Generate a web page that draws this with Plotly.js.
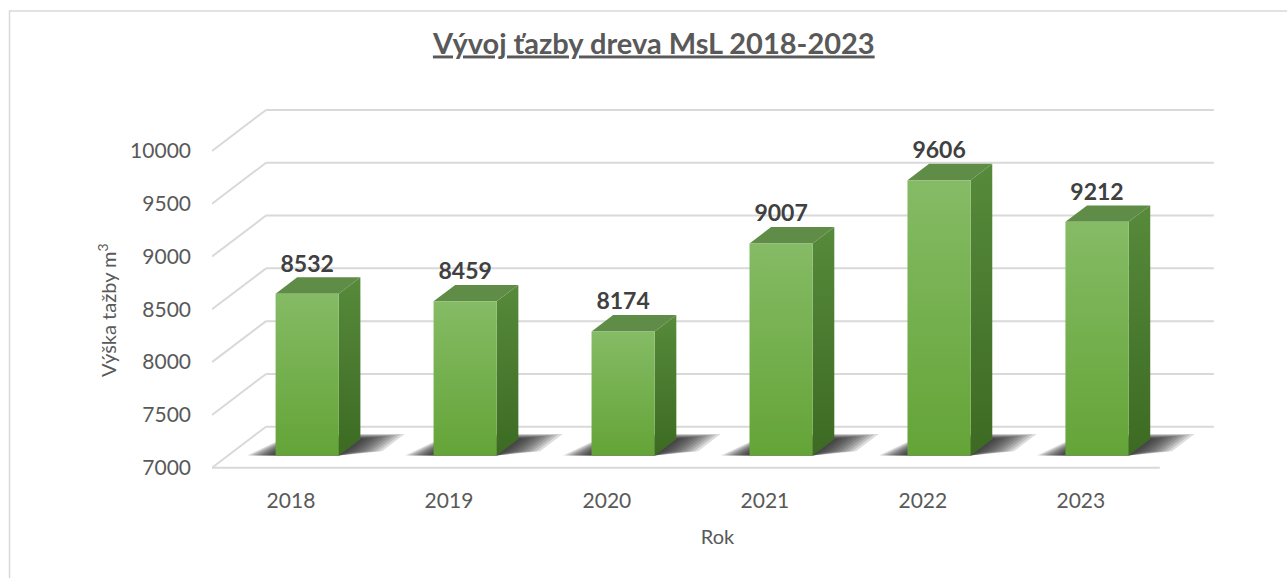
<!DOCTYPE html>
<html><head><meta charset="utf-8">
<script src="https://cdn.plot.ly/plotly-3.0.1.min.js"></script>
<style>html,body{margin:0;padding:0;background:#fff}#chart{width:1287px;height:578px}</style>
</head><body><div id="chart"></div>
<script>
// ---- data ----
const years = ['2018', '2019', '2020', '2021', '2022', '2023'];
const volumes = [8532, 8459, 8174, 9007, 9606, 9212];
const yTicks = [7000, 7500, 8000, 8500, 9000, 9500, 10000];
const yTickText = ['7000', '7500', '8000', '8500', '9000', '9500', '10000'];
const chartTitle = 'Vývoj ťazby dreva MsL 2018-2023';
const xTitle = 'Rok';
const yTitle = 'Výška tažby m<sup>3</sup>';

// ---- 3D oblique projection settings ----
const BASE = 7000;
const DX = 0.342;   // full-depth shift in category units
const DY = 388;     // full-depth shift in value units
const HALF = 0.2;   // half bar width (category units)
const D0 = 0.3, D1 = 0.7; // bar depth span
const n = years.length;
const idx = years.map((_, i) => i);
function P(x, v, d) { return [x + d * DX, v + d * DY]; }

const traces = [];
function poly(pts) { return { x: pts.map(p => p[0]).concat([pts[0][0]]), y: pts.map(p => p[1]).concat([pts[0][1]]) }; }

// grid: back wall lines + left wall diagonals + front floor edge
const gx = [], gy = [];
yTicks.forEach(t => {
  const a = P(-0.5, t, 1), b = P(n - 0.5, t, 1), c = P(-0.5, t, 0);
  gx.push(a[0], b[0], null); gy.push(a[1], b[1], null);
  gx.push(c[0], a[0], null); gy.push(c[1], a[1], null);
});
const f0 = P(-0.5, BASE, 0), f1 = P(n - 0.5, BASE, 0);
gx.push(f0[0], f1[0]); gy.push(f0[1], f1[1]);
traces.push({ type: 'scatter', mode: 'lines', x: gx, y: gy, line: { color: '#d9d9d9', width: 2 }, hoverinfo: 'skip' });

// shadows (layered soft parallelograms on the floor)
idx.forEach(i => {
  for (let k = 10; k >= 1; k--) {
    const eL = 0.018 * k, eR = 0.024 * k, eD = 0.012 * k;
    const pts = [P(i - HALF - eL, BASE, D0), P(i + HALF, BASE, D0), P(i + HALF + eR, BASE, D0 + 0.1),
                 P(i + HALF + eR, BASE, D1 + eD), P(i - HALF - eL * 0.4, BASE, D1 + eD)];
    const q = poly(pts);
    traces.push({ type: 'scatter', mode: 'lines', x: q.x, y: q.y, fill: 'toself', fillcolor: 'rgba(25,25,25,0.15)', line: { width: 0 }, hoverinfo: 'skip' });
  }
});

// bars
idx.forEach(i => {
  const v = volumes[i];
  const front = poly([P(i - HALF, BASE, D0), P(i + HALF, BASE, D0), P(i + HALF, v, D0), P(i - HALF, v, D0)]);
  const side = poly([P(i + HALF, BASE, D0), P(i + HALF, BASE, D1), P(i + HALF, v, D1), P(i + HALF, v, D0)]);
  const top = poly([P(i - HALF, v, D0), P(i + HALF, v, D0), P(i + HALF, v, D1), P(i - HALF, v, D1)]);
  traces.push({ type: 'scatter', mode: 'lines', x: side.x, y: side.y, fill: 'toself', fillcolor: '#4a7a2f',
    fillgradient: { type: 'vertical', colorscale: [[0, '#3c6a22'], [1, '#578a3b']] }, line: { width: 0 }, hoverinfo: 'skip' });
  traces.push({ type: 'scatter', mode: 'lines', x: top.x, y: top.y, fill: 'toself', fillcolor: '#5f8c46', line: { width: 0 }, hoverinfo: 'skip' });
  traces.push({ type: 'scatter', mode: 'lines', x: front.x, y: front.y, fill: 'toself', fillcolor: '#70ad47',
    fillgradient: { type: 'vertical', colorscale: [[0, '#64a437'], [1, '#85bb65']] }, line: { width: 0 }, hoverinfo: 'skip' });
});

// data labels
traces.push({ type: 'scatter', mode: 'text',
  x: idx.map(i => P(i, volumes[i], D0)[0]),
  y: idx.map(i => P(i, volumes[i], D1)[1]),
  text: volumes.map(String), textposition: 'top center',
  textfont: { family: 'Lato, sans-serif', size: 23, color: '#404040', weight: 'bold' }, hoverinfo: 'skip' });

const layout = {
  width: 1287, height: 578,
  margin: { l: 212, r: 64, t: 100, b: 98 },
  paper_bgcolor: '#ffffff', plot_bgcolor: 'rgba(0,0,0,0)',
  showlegend: false,
  font: { family: 'Lato, "Open Sans", sans-serif', color: '#595959' },
  title: { text: '<b><u>' + chartTitle + '</u></b>', x: 0.508, xanchor: 'center', y: 0.925, yanchor: 'middle',
    font: { size: 29, color: '#595959' } },
  xaxis: { range: [-0.5, 5.9], tickvals: idx, ticktext: years, showgrid: false, zeroline: false, showline: false,
    ticks: '', ticklabelstandoff: 6, tickfont: { size: 21, color: '#595959' },
    title: { text: xTitle, font: { size: 20, color: '#595959' }, standoff: 18 } },
  yaxis: { range: [6883.5, 10482.4], tickvals: yTicks, ticktext: yTickText, showgrid: false, zeroline: false, showline: false,
    ticks: '', ticklabelstandoff: 20, tickfont: { size: 21, color: '#595959' } },
  annotations: [{ text: yTitle, xref: 'paper', yref: 'paper', x: (107 - 212) / 1011, y: (480 - 310) / 380,
    xanchor: 'center', yanchor: 'middle', textangle: -90, showarrow: false, font: { size: 20, color: '#595959' } }],
  shapes: [{ type: 'rect', xref: 'paper', yref: 'paper', x0: (9.5 - 212) / 1011, x1: 1.08, y0: -0.3, y1: (480 - 11) / 380,
    line: { color: '#d9d9d9', width: 1.5 }, fillcolor: 'rgba(0,0,0,0)', layer: 'below' }]
};

Plotly.newPlot('chart', traces, layout, { staticPlot: true, displayModeBar: false });
</script>
</body></html>
